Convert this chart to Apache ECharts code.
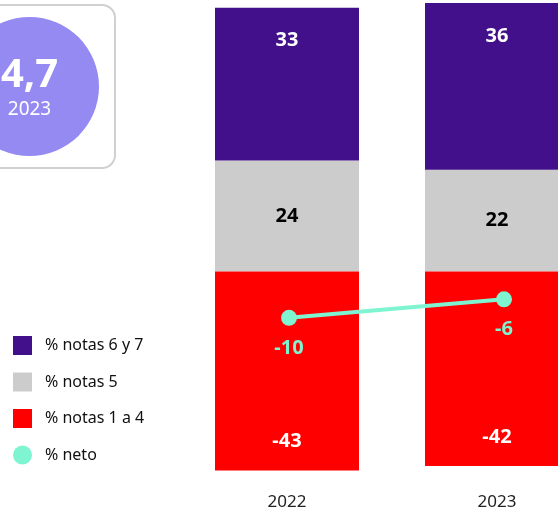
<!DOCTYPE html>
<html>
<head>
<meta charset="utf-8">
<script src="https://cdn.jsdelivr.net/npm/echarts@6/dist/echarts.min.js"></script>
<style>
  html, body { margin: 0; padding: 0; background: #fff; }
  #main { width: 558px; height: 514px; }
</style>
</head>
<body>
<div id="main"></div>
<script>
const years = ['2022', '2023']
const notas67 = [33, 36]
const notas5 = [24, 22]
const notas14 = [-43, -42]
const neto = [-10, -6]

const font = 'Noto Sans'
const purple = '#42108A'
const gray = '#CCCCCC'
const red = '#FF0000'
const mint = '#7EF5D0'

const chartInstance = echarts.init(document.getElementById('main'))

const yAxisBase = {
  type: 'value',
  min: -43,
  max: 58,
  show: false,
  splitLine: { show: false }
}

const option = {
  animation: false,
  textStyle: { fontFamily: font },
  grid: [
    { left: 182, width: 420, top: 3, height: 467.6, outerBoundsMode: 'none' },
    { left: 181.5, width: 430, top: 3, height: 467.6, outerBoundsMode: 'none' }  // la línea va un poco corrida
  ],
  xAxis: [
    {
      type: 'category',
      gridIndex: 0,
      data: years,
      axisLine: { show: false },
      axisTick: { show: false },
      axisLabel: { color: '#222', fontSize: 17, margin: 23, fontFamily: font }
    },
    {
      type: 'category',
      gridIndex: 1,
      data: years,
      show: false
    }
  ],
  yAxis: [
    Object.assign({ gridIndex: 0 }, yAxisBase),
    Object.assign({ gridIndex: 1 }, yAxisBase)
  ],
  legend: {
    orient: 'vertical',
    left: 8,
    top: 331,
    itemWidth: 19,
    itemHeight: 19,
    itemGap: 17.5,
    textStyle: { fontSize: 16, color: '#111', fontFamily: font, padding: [0, 0, 0, 8] },
    data: [
      { name: '% notas 6 y 7', icon: 'rect' },
      { name: '% notas 5', icon: 'rect' },
      { name: '% notas 1 a 4', icon: 'rect' },
      { name: '% neto', icon: 'circle' }
    ]
  },
  graphic: [
    {
      type: 'rect',
      shape: { x: -20, y: 5, width: 135, height: 163, r: 13 },
      style: { fill: '#fff', stroke: '#D0D0D0', lineWidth: 2 }
    },
    {
      type: 'circle',
      shape: { cx: 29.5, cy: 86.5, r: 69.5 },
      style: { fill: '#958AF2' }
    },
    {
      type: 'text',
      x: 29.5,
      y: 76,
      style: {
        text: '4,7',
        fill: '#fff',
        font: 'bold 40px "Noto Sans"',
        align: 'center',
        verticalAlign: 'middle'
      }
    },
    {
      type: 'text',
      x: 29.5,
      y: 110,
      style: {
        text: '2023',
        fill: '#fff',
        font: '19px "Noto Sans"',
        align: 'center',
        verticalAlign: 'middle'
      }
    }
  ],
  series: [
    {
      name: '% notas 5',
      type: 'bar',
      stack: 'total',
      barWidth: 144,
      data: notas5,
      itemStyle: { color: gray },
      label: {
        show: true,
        position: 'inside',
        color: '#000',
        fontSize: 20,
        fontWeight: 'bold'
      }
    },
    {
      name: '% notas 6 y 7',
      type: 'bar',
      stack: 'total',
      barWidth: 144,
      data: notas67,
      itemStyle: { color: purple },
      label: {
        show: true,
        position: 'insideTop',
        distance: 23,
        color: '#fff',
        fontSize: 20,
        fontWeight: 'bold'
      }
    },
    {
      name: '% notas 1 a 4',
      type: 'bar',
      stack: 'total',
      barWidth: 144,
      data: notas14,
      itemStyle: { color: red },
      label: {
        show: true,
        position: 'insideBottom',
        distance: 19,
        color: '#fff',
        fontSize: 20,
        fontWeight: 'bold'
      }
    },
    {
      name: '% neto',
      type: 'line',
      xAxisIndex: 1,
      yAxisIndex: 1,
      z: 5,
      data: neto,
      symbol: 'circle',
      symbolSize: 16,
      lineStyle: { color: mint, width: 4 },
      itemStyle: { color: mint },
      label: {
        show: true,
        position: 'bottom',
        distance: 12,
        color: mint,
        fontSize: 20,
        fontWeight: 'bold'
      }
    }
  ]
}

chartInstance.setOption(option)
</script>
</body>
</html>
